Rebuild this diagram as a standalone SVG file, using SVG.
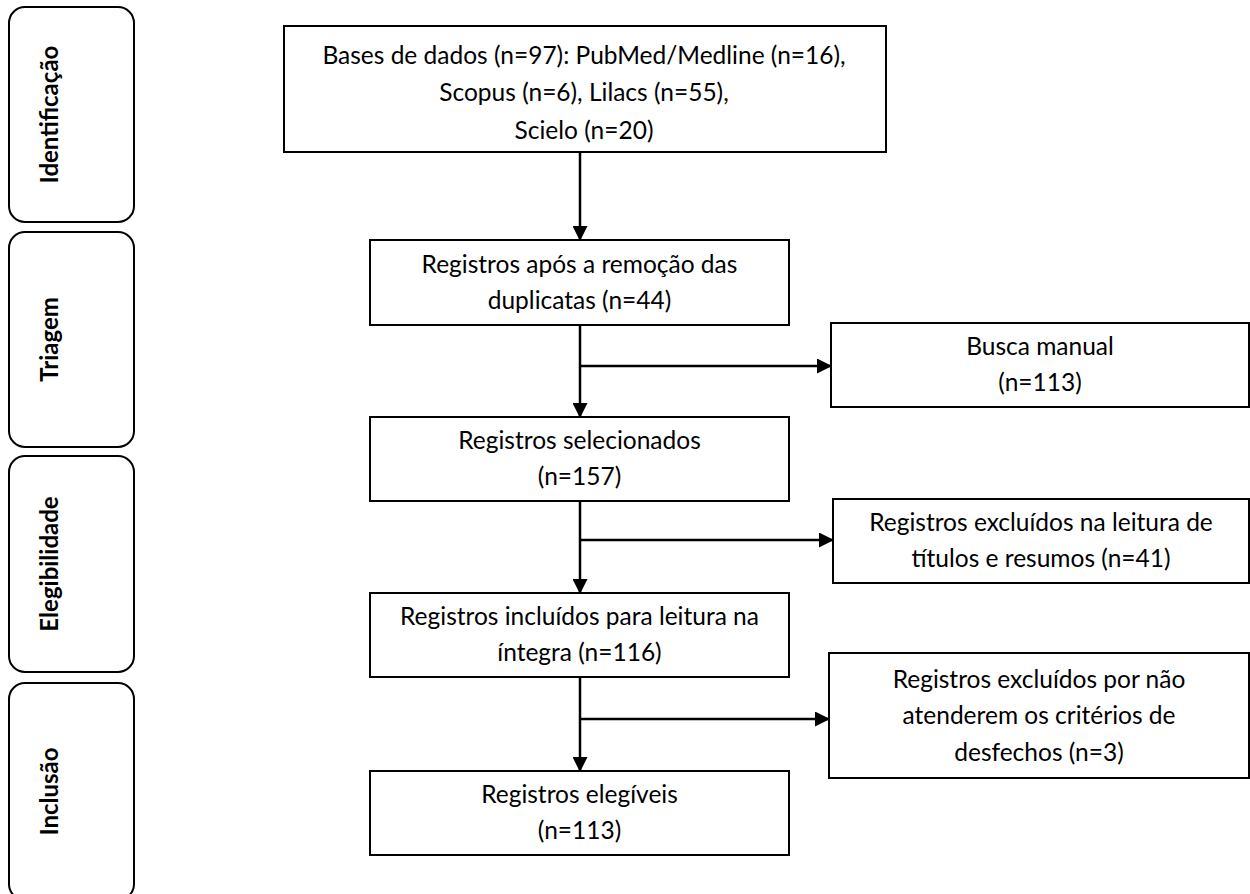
<svg xmlns="http://www.w3.org/2000/svg" width="1250" height="894" viewBox="0 0 1250 894">
<defs>
<marker id="ah" markerWidth="15" markerHeight="15" refX="14" refY="7.5" orient="auto" markerUnits="userSpaceOnUse" viewBox="0 0 15 15">
<path d="M0,0 L15,7.5 L0,15 Z" fill="#000"/>
</marker>
<style>
.box{fill:#fff;stroke:#000;stroke-width:2}
.ph{fill:#fff;stroke:#000;stroke-width:2}
.t{font-family:Lato,"Liberation Sans",sans-serif;font-size:24.5px;fill:#000;text-anchor:middle}
.pt{font-family:Lato,"Liberation Sans",sans-serif;font-size:24px;font-weight:bold;fill:#000;text-anchor:middle}
.c{fill:none;stroke:#000;stroke-width:2.5}
</style>
</defs>
<rect width="1250" height="894" fill="#fff"/>
<g id="phase-identificacao">
<rect class="ph" x="9" y="7" width="125" height="215" rx="16"/>
<text class="pt" transform="translate(58,114.5) rotate(-90)">Identificação</text>
</g>
<g id="phase-triagem">
<rect class="ph" x="9" y="232" width="125" height="215" rx="16"/>
<text class="pt" transform="translate(58,339.5) rotate(-90)">Triagem</text>
</g>
<g id="phase-elegibilidade">
<rect class="ph" x="9" y="456" width="125" height="216" rx="16"/>
<text class="pt" transform="translate(58,564) rotate(-90)">Elegibilidade</text>
</g>
<g id="phase-inclusao">
<rect class="ph" x="9" y="683" width="125" height="217" rx="16"/>
<text class="pt" transform="translate(58,791.5) rotate(-90)">Inclusão</text>
</g>
<g id="connectors">
<line class="c" x1="580" y1="152" x2="580" y2="240" marker-end="url(#ah)"/>
<line class="c" x1="580" y1="325" x2="580" y2="417" marker-end="url(#ah)"/>
<line class="c" x1="580" y1="366" x2="831" y2="366" marker-end="url(#ah)"/>
<line class="c" x1="580" y1="501" x2="580" y2="593" marker-end="url(#ah)"/>
<line class="c" x1="580" y1="540" x2="833" y2="540" marker-end="url(#ah)"/>
<line class="c" x1="580" y1="677" x2="580" y2="771" marker-end="url(#ah)"/>
<line class="c" x1="580" y1="719" x2="829" y2="719" marker-end="url(#ah)"/>
</g>
<g id="node-bases">
<rect class="box" x="284" y="26" width="602" height="126"/>
<text class="t" x="584" y="64">Bases de dados (n=97): PubMed/Medline (n=16),</text>
<text class="t" x="584" y="101">Scopus (n=6), Lilacs (n=55),</text>
<text class="t" x="584" y="139">Scielo (n=20)</text>
</g>
<g id="node-duplicatas">
<rect class="box" x="370" y="240" width="419" height="85"/>
<text class="t" x="579.5" y="273">Registros após a remoção das</text>
<text class="t" x="579.5" y="309">duplicatas (n=44)</text>
</g>
<g id="node-busca">
<rect class="box" x="831" y="323" width="418" height="84"/>
<text class="t" x="1040" y="355">Busca manual</text>
<text class="t" x="1040" y="391">(n=113)</text>
</g>
<g id="node-selecionados">
<rect class="box" x="370" y="417" width="419" height="84"/>
<text class="t" x="579.5" y="449">Registros selecionados</text>
<text class="t" x="579.5" y="485">(n=157)</text>
</g>
<g id="node-excluidos-titulos">
<rect class="box" x="833" y="499" width="416" height="84"/>
<text class="t" x="1041" y="531">Registros excluídos na leitura de</text>
<text class="t" x="1041" y="567">títulos e resumos (n=41)</text>
</g>
<g id="node-integra">
<rect class="box" x="370" y="593" width="419" height="84"/>
<text class="t" x="579.5" y="625">Registros incluídos para leitura na</text>
<text class="t" x="579.5" y="661">íntegra (n=116)</text>
</g>
<g id="node-excluidos-desfechos">
<rect class="box" x="829" y="653" width="420" height="125"/>
<text class="t" x="1039" y="688">Registros excluídos por não</text>
<text class="t" x="1039" y="724">atenderem os critérios de</text>
<text class="t" x="1039" y="761">desfechos (n=3)</text>
</g>
<g id="node-elegiveis">
<rect class="box" x="370" y="771" width="419" height="84"/>
<text class="t" x="579.5" y="803">Registros elegíveis</text>
<text class="t" x="579.5" y="839">(n=113)</text>
</g>
</svg>
